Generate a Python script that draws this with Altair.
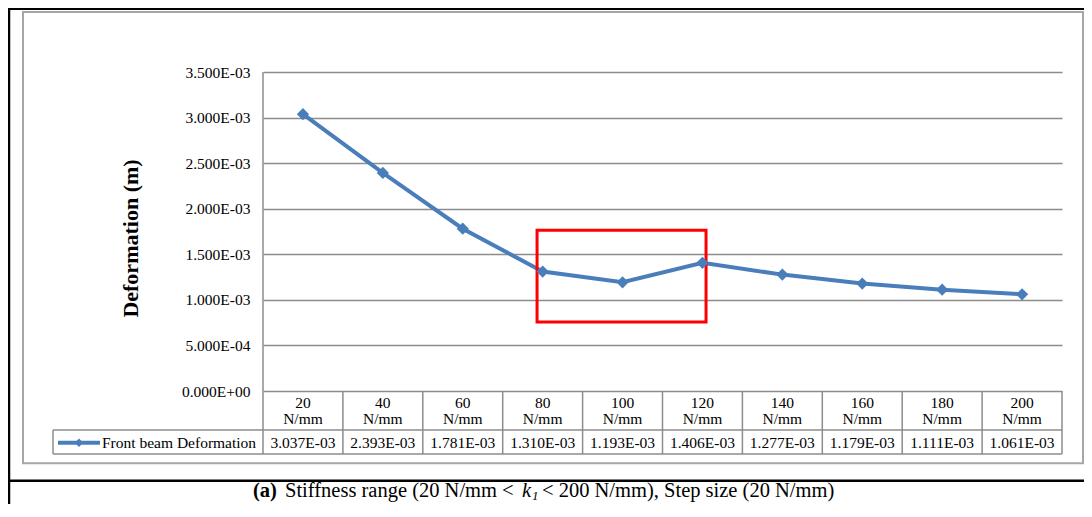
import altair as alt
import pandas as pd

# ---------------- data ----------------
k_values = [20, 40, 60, 80, 100, 120, 140, 160, 180, 200]
deformation = [3.037e-3, 2.393e-3, 1.781e-3, 1.310e-3, 1.193e-3,
               1.406e-3, 1.277e-3, 1.179e-3, 1.111e-3, 1.061e-3]
unit_label = "N/mm"
series_name = "Front beam Deformation"
y_ticks = [0, 0.0005, 0.0010, 0.0015, 0.0020, 0.0025, 0.0030, 0.0035]
highlight_k = [78.6, 120.9]
highlight_def = [0.000757, 0.001763]
y_title = "Deformation (m)"

FONT = "Liberation Serif"
BLUE = "#4A7EBB"
GRID = "#8c8c8c"
TABLE = "#8c8c8c"
BORDER = "#a6a6a6"

df = pd.DataFrame({"k": k_values, "def": deformation,
                   "lab": [str(k) for k in k_values],
                   "unit": [unit_label] * len(k_values)})
bounds = pd.DataFrame({"b": [k - 10 for k in k_values[1:]] + [k_values[-1] + 10]})
hl = pd.DataFrame({"k1": [highlight_k[0]], "k2": [highlight_k[1]],
                   "d1": [highlight_def[0]], "d2": [highlight_def[1]]})
one = alt.Data(values=[{"z": 0}])

xs = alt.Scale(domain=[10, 210], nice=False, zero=False)
ys = alt.Scale(domain=[0, 0.0035], nice=False, zero=True)
sci = "replace(replace(format({v}, '.3e'), 'e-', 'E-0'), 'e+', 'E+0')"

base = alt.Chart(df)

line = base.mark_line(color=BLUE, strokeWidth=4).encode(
    x=alt.X("k:Q", scale=xs, axis=None),
    y=alt.Y("def:Q", scale=ys, axis=alt.Axis(
        values=y_ticks, labelExpr=sci.format(v="datum.value"), grid=True,
        ticks=False, domain=False, labelPadding=13, labelFont=FONT,
        labelFontSize=15.5, labelColor="black", gridColor=GRID, gridWidth=1.5,
        title=y_title, titleFont=FONT, titleFontSize=22, titleFontWeight="bold",
        titleX=-133, titleY=166, titleAngle=270, titleAlign="center",
        titleBaseline="middle", titleColor="black")),
)
points = base.mark_point(shape="diamond", filled=True, size=150, color=BLUE,
                         opacity=1).encode(x=alt.X("k:Q", scale=xs),
                                           y=alt.Y("def:Q", scale=ys))

hdr1 = base.mark_text(font=FONT, fontSize=15.5, color="black", baseline="middle").encode(
    x=alt.X("k:Q", scale=xs), y=alt.value(330.7), text="lab:N")
hdr2 = base.mark_text(font=FONT, fontSize=15.5, color="black", baseline="middle").encode(
    x=alt.X("k:Q", scale=xs), y=alt.value(347), text="unit:N")
vals = base.transform_calculate(txt=sci.format(v="datum['def']")).mark_text(
    font=FONT, fontSize=15.5, color="black", baseline="middle").encode(
    x=alt.X("k:Q", scale=xs), y=alt.value(370.7), text="txt:N")

vlines = alt.Chart(bounds).mark_rule(color=TABLE, strokeWidth=1.5).encode(
    x=alt.X("b:Q", scale=xs), y=alt.value(319), y2=alt.value(382))


def hrule(x1, x2, y, color, w):
    return alt.Chart(one).mark_rule(color=color, strokeWidth=w).encode(
        x=alt.value(x1), x2=alt.value(x2), y=alt.value(y))


def vrule(x, y1, y2, color, w):
    return alt.Chart(one).mark_rule(color=color, strokeWidth=w).encode(
        x=alt.value(x), y=alt.value(y1), y2=alt.value(y2))


deco = [
    hrule(-210, 799, 358, TABLE, 1.5),
    hrule(-210, 799, 382, TABLE, 1.5),
    vrule(-210, 358, 382, TABLE, 1.5),
    vrule(0, 0, 382, GRID, 1.5),
    hrule(-255, 821, -63, "black", 2),
    vrule(-254, -64, 432, "black", 2.5),
    hrule(-255, 821, 408.7, "black", 2.5),
]

frame = alt.Chart(one).mark_rect(filled=False, stroke=BORDER, strokeWidth=2).encode(
    x=alt.value(-240), x2=alt.value(820), y=alt.value(-60), y2=alt.value(391.3))

leg_line = hrule(-205, -163, 370.7, BLUE, 4)
leg_pt = alt.Chart(one).mark_point(shape="diamond", filled=True, size=70, color=BLUE,
                                   opacity=1).encode(x=alt.value(-184), y=alt.value(370.7))
leg_txt = alt.Chart(one).mark_text(font=FONT, fontSize=15.5, color="black", align="left",
                                   baseline="middle", text=series_name).encode(
    x=alt.value(-161), y=alt.value(370.7))

box = alt.Chart(hl).mark_rect(filled=False, stroke="#FF0000", strokeWidth=3).encode(
    x=alt.X("k1:Q", scale=xs), x2="k2:Q", y=alt.Y("d1:Q", scale=ys), y2="d2:Q")

CAP_Y = 425


def cap(txt, x, y, size=20.5, weight="normal", style="normal"):
    return alt.Chart(one).mark_text(font=FONT, fontSize=size, fontWeight=weight,
                                    fontStyle=style, color="black", align="left",
                                    baseline="alphabetic", text=txt).encode(
        x=alt.value(x), y=alt.value(y))


caption = [
    cap("(a)", -10, CAP_Y, weight="bold"),
    cap("Stiffness range (20 N/mm <", 22, CAP_Y),
    cap("k", 259, CAP_Y, style="italic"),
    cap("1", 269, CAP_Y + 3, size=13, style="italic"),
    cap("< 200 N/mm), Step size (20 N/mm)", 279, CAP_Y),
]

chart = alt.layer(
    frame, line, *deco, vlines, box, points, hdr1, hdr2, vals,
    leg_line, leg_pt, leg_txt, *caption,
).properties(
    width=799, height=319,
    padding={"left": 255, "top": 64, "right": 22, "bottom": 113},
    autosize=alt.AutoSizeParams(type="none"),
    background="white",
).configure_view(stroke=None)

chart.save("out.html", embed_options={"renderer": "svg", "actions": False})
